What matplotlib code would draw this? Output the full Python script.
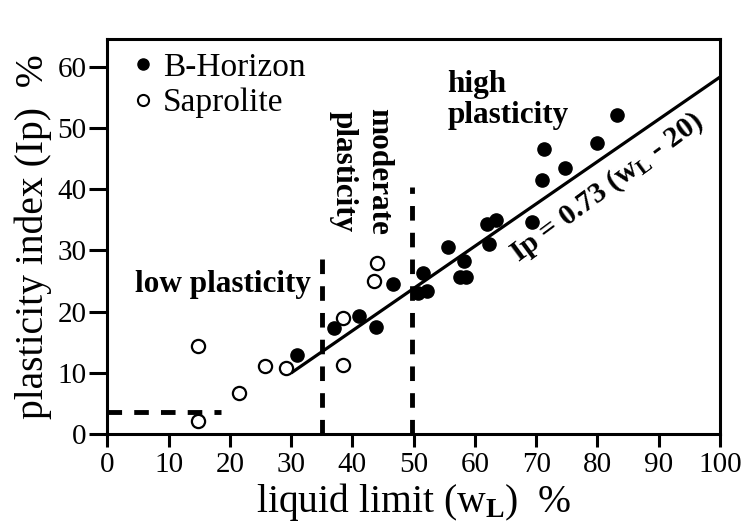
import matplotlib
matplotlib.use('Agg')
import matplotlib.pyplot as plt
from matplotlib.lines import Line2D

plt.rcParams['font.family'] = 'Liberation Serif'
plt.rcParams['mathtext.fontset'] = 'custom'
plt.rcParams['mathtext.rm'] = 'Liberation Serif'
plt.rcParams['mathtext.bf'] = 'Liberation Serif:bold'
plt.rcParams['mathtext.it'] = 'Liberation Serif:italic'

# B-Horizon samples (filled)
b_wl = [30.9, 37.0, 41.1, 43.9, 46.7, 50.7, 51.6, 52.2, 55.6, 58.2, 57.5, 58.6,
        61.9, 63.4, 62.3, 69.3, 70.9, 71.2, 74.7, 79.9, 83.2]
b_ip = [12.9, 17.3, 19.3, 17.5, 24.5, 23.0, 26.3, 23.4, 30.6, 28.3, 25.7, 25.7,
        34.4, 35.0, 31.0, 34.6, 41.5, 46.5, 43.4, 47.6, 52.1]

# Saprolite samples (open)
s_wl = [14.8, 14.8, 21.5, 25.8, 29.1, 38.5, 38.5, 43.5, 44.0]
s_ip = [14.4, 2.2, 6.8, 11.1, 10.8, 19.0, 11.3, 25.0, 28.0]

# regression line Ip = 0.73 (wL - 20)
fit_wl = [30, 100]
fit_ip = [10.0, 58.3]

# class boundaries
low_wl = [0, 18.5]
low_ip = [3.7, 3.7]
b35_wl = [35, 35]
b35_ip = [0, 29.8]
b50_wl = [49.8, 49.8]
b50_ip = [0, 40.3]

fig = plt.figure(figsize=(7.55, 5.28), dpi=100)
ax = fig.add_axes([0.1421, 0.1775, 0.8115, 0.7485])

dash = (0, (3, 2.5))
ax.plot(low_wl, low_ip, color='black', lw=3.5, linestyle=dash)
ax.plot(b35_wl, b35_ip, color='black', lw=3.5, linestyle=dash)
ax.plot(b50_wl, b50_ip, color='black', lw=3.5, linestyle=dash)
ax.plot(fit_wl, fit_ip, color='black', lw=2.3, solid_capstyle='butt')

ax.plot(b_wl, b_ip, 'o', color='black', markersize=9.5, zorder=3)
ax.plot(s_wl, s_ip, 'o', markerfacecolor='white', markeredgecolor='black',
        markeredgewidth=1.6, markersize=9.5, zorder=3)

ax.set_xlim(0, 100)
ax.set_ylim(0, 64.5)
ax.set_xticks(range(0, 101, 10))
ax.set_yticks(range(0, 61, 10))
for s in ax.spines.values():
    s.set_linewidth(2.2)
ax.tick_params(axis='x', direction='out', length=9, width=2.2, labelsize=21, pad=4)
ax.tick_params(axis='y', direction='out', length=13, width=2.2, labelsize=21, pad=2)

ax.set_xlabel(r'liquid limit (w$_\mathbf{L}$)  %', fontsize=28.5, labelpad=2)
ax.set_ylabel('plasticity index (Ip)  %', fontsize=28.5, labelpad=4)

ax.text(4.5, 24.4, 'low plasticity', fontsize=22.5, fontweight='bold', va='center')
ax.text(41.4, 53.2, 'moderate\nplasticity', fontsize=22.5, fontweight='bold',
        rotation=-90, ha='center', va='top', linespacing=1.3)
ax.text(55.5, 59.5, 'high\nplasticity', fontsize=22.5, fontweight='bold',
        ha='left', va='top', linespacing=1.1)
ax.text(81.5, 40.3, r'Ip = 0.73 (w$_\mathbf{L}$ - 20)', fontsize=21.5, fontweight='bold',
        rotation=36.5, ha='center', va='center', rotation_mode='anchor')

handles = [
    Line2D([], [], marker='o', linestyle='none', color='black', markersize=8),
    Line2D([], [], marker='o', linestyle='none', markerfacecolor='white',
           markeredgecolor='black', markeredgewidth=1.5, markersize=8),
]
ax.legend(handles, ['B-Horizon', 'Saprolite'], loc='upper left', frameon=False,
          fontsize=24, handlelength=0.6, handletextpad=0.3, labelspacing=0.15,
          borderaxespad=0.0, bbox_to_anchor=(0.02, 1.0))

plt.savefig('out.png', dpi=100)
